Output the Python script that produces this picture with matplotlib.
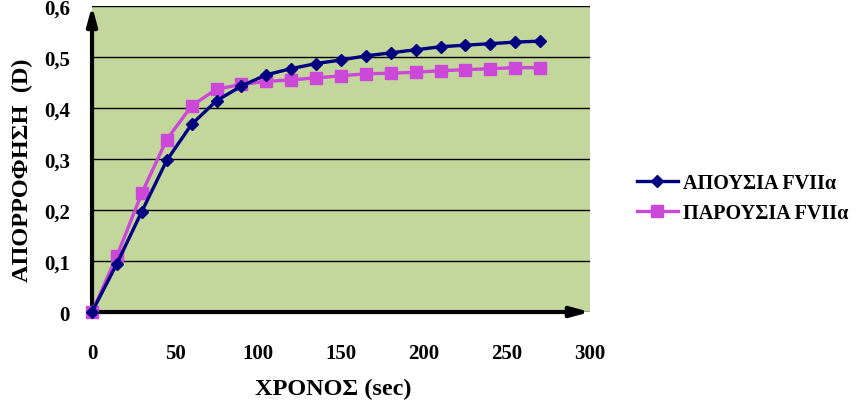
"""Absorbance vs time, with and without FVIIa."""
import matplotlib
matplotlib.use('Agg')
import matplotlib.pyplot as plt
import matplotlib.ticker as mticker

time_sec = [0, 15, 30, 45, 60, 75, 90, 105, 120, 135, 150, 165, 180, 195, 210, 225, 240, 255, 270]
absent_fviia = [0, 0.095, 0.197, 0.297, 0.368, 0.414, 0.443, 0.465, 0.477, 0.487, 0.494,
                0.502, 0.508, 0.514, 0.520, 0.523, 0.526, 0.529, 0.531]
present_fviia = [0, 0.110, 0.233, 0.338, 0.404, 0.437, 0.446, 0.452, 0.455, 0.459, 0.463,
                 0.467, 0.468, 0.470, 0.473, 0.475, 0.477, 0.479, 0.479]
y_ticks = [0, 0.1, 0.2, 0.3, 0.4, 0.5, 0.6]
x_ticks = [0, 50, 100, 150, 200, 250, 300]

plt.rcParams['font.family'] = ['Liberation Serif', 'DejaVu Serif']
plt.rcParams['font.weight'] = 'bold'

fig = plt.figure(figsize=(8.6, 4.06), dpi=100)
ax = fig.add_axes([0.107, 0.229, 0.579, 0.754])
ax.set_facecolor("#C3D69B")

ax.plot(time_sec, absent_fviia, color="#000080", linewidth=2.4, marker="D",
        markersize=6, label="ΑΠΟΥΣΙΑ FVIIα", zorder=4, clip_on=False)
ax.plot(time_sec, present_fviia, color="#CC48D9", linewidth=2.4, marker="s",
        markersize=8.5, label="ΠΑΡΟΥΣΙΑ FVIIα", zorder=3, clip_on=False)

ax.set_xlim(0, 300)
ax.set_ylim(0, 0.6)
ax.set_xticks(x_ticks)
ax.set_yticks(y_ticks)
ax.yaxis.set_major_formatter(mticker.FuncFormatter(
    lambda v, _: "0" if v == 0 else f"{v:.1f}".replace(".", ",")))
ax.tick_params(length=0, labelsize=15)
ax.tick_params(axis="y", pad=16)
ax.tick_params(axis="x", pad=22)
ax.grid(axis="y", color="black", linewidth=1)
ax.set_axisbelow(True)
for s in ax.spines.values():
    s.set_visible(False)

# axis arrows
ax.annotate("", xy=(1.0, 0), xytext=(0, 0), xycoords="axes fraction",
            arrowprops=dict(arrowstyle="-|>,head_length=1.1,head_width=0.3",
                            color="black", lw=3, shrinkA=0, shrinkB=0), zorder=2)
ax.annotate("", xy=(0, 1.0), xytext=(0, 0), xycoords="axes fraction",
            arrowprops=dict(arrowstyle="-|>,head_length=1.1,head_width=0.3",
                            color="black", lw=3, shrinkA=0, shrinkB=0), zorder=2)

fig.text(0.387, 0.04, "ΧΡΟΝΟΣ (sec)", ha="center", va="center", fontsize=17.5, fontweight="bold")
fig.text(0.026, 0.58, "ΑΠΟΡΡΟΦΗΣΗ  (D)", ha="center", va="center", rotation=90,
         fontsize=17.5, fontweight="bold")

fig.legend(loc="center left", bbox_to_anchor=(0.72, 0.51), frameon=False,
           fontsize=14.5, handlelength=2.0, labelspacing=0.5, handletextpad=0.25)

fig.savefig("out.png", dpi=100)
plt.close(fig)
